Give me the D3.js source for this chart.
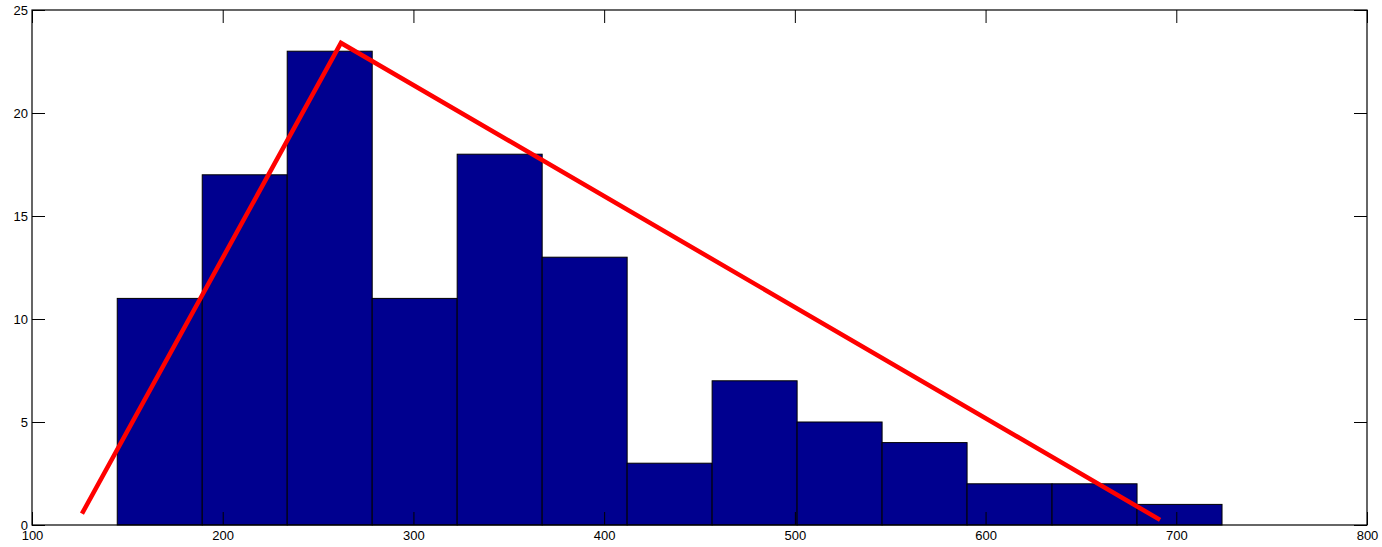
<!DOCTYPE html>
<html>
<head>
<meta charset="utf-8">
<script src="https://cdn.jsdelivr.net/npm/d3@7"></script>
<style>
  body { margin: 0; background: #fff; }
  text { font-family: "Liberation Sans", Arial, sans-serif; font-size: 13px; fill: #000; }
</style>
</head>
<body>
<svg width="1382" height="547"></svg>
<script>
// histogram bins (left edge, right edge) and counts
var binStart = 144.7,
    binWidth = 44.56,
    counts = [11, 17, 23, 11, 18, 13, 3, 7, 5, 4, 2, 2, 1];

// red outline polyline
var lineX = [126.2, 262, 691.5],
    lineY = [0.55, 23.4, 0.25];

var xTicks = [100, 200, 300, 400, 500, 600, 700, 800],
    yTicks = [0, 5, 10, 15, 20, 25];

var margin = {top: 10, right: 15, bottom: 22, left: 32},
    svg = d3.select("svg"),
    width = 1382 - margin.left - margin.right,
    height = 547 - margin.top - margin.bottom,
    tickLen = 13;

var x = d3.scaleLinear().domain([100, 800]).range([0, width]),
    y = d3.scaleLinear().domain([0, 25]).range([height, 0]);

var g = svg.append("g")
    .attr("transform", "translate(" + margin.left + "," + margin.top + ")");

var bars = counts.map(function(c, i) {
  return {x0: binStart + i * binWidth, x1: binStart + (i + 1) * binWidth, n: c};
});

g.selectAll(".bar")
    .data(bars)
    .enter().append("rect")
    .attr("class", "bar")
    .attr("x", function(d) { return x(d.x0); })
    .attr("width", function(d) { return x(d.x1) - x(d.x0); })
    .attr("y", function(d) { return y(d.n); })
    .attr("height", function(d) { return y(0) - y(d.n); })
    .style("fill", "#00008f")
    .style("stroke", "#000")
    .style("stroke-width", 1);

var pts = lineX.map(function(v, i) { return [v, lineY[i]]; });

g.append("path")
    .datum(pts)
    .attr("d", d3.line().x(function(d) { return x(d[0]); }).y(function(d) { return y(d[1]); }))
    .style("fill", "none")
    .style("stroke", "#ff0000")
    .style("stroke-width", 4.5)
    .style("stroke-linejoin", "miter");

// axes: inward ticks on all four sides (matlab style)
g.append("g")
    .attr("transform", "translate(0," + height + ")")
    .call(d3.axisBottom(x).tickValues(xTicks).tickSizeInner(-tickLen).tickSizeOuter(0).tickPadding(6))
    .call(function(a) { a.selectAll("text").attr("dy", "0.71em").attr("y", 6); });

g.append("g")
    .call(d3.axisTop(x).tickValues(xTicks).tickSizeInner(-tickLen).tickSizeOuter(0).tickFormat(""));

g.append("g")
    .call(d3.axisLeft(y).tickValues(yTicks).tickSizeInner(-tickLen).tickSizeOuter(0).tickPadding(4));

g.append("g")
    .attr("transform", "translate(" + width + ",0)")
    .call(d3.axisRight(y).tickValues(yTicks).tickSizeInner(-tickLen).tickSizeOuter(0).tickFormat(""));

g.selectAll(".domain").remove();
g.selectAll(".tick line").style("stroke", "#000");
g.selectAll(".tick text").style("font-size", "13px").style("font-family", "Liberation Sans, Arial, sans-serif");

g.append("rect")
    .attr("width", width)
    .attr("height", height)
    .style("fill", "none")
    .style("stroke", "#000")
    .style("stroke-width", 1.2);
</script>
</body>
</html>
